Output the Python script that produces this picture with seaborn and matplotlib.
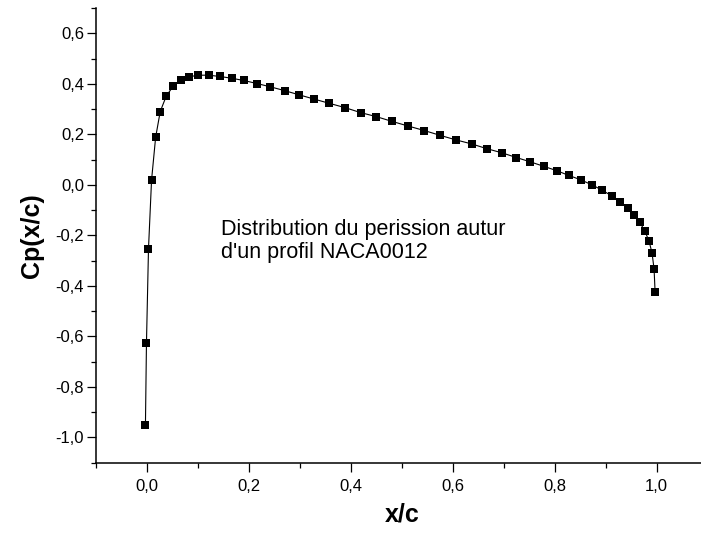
import matplotlib
matplotlib.use("Agg")
import matplotlib.pyplot as plt
import seaborn as sns
import pandas as pd
from matplotlib.ticker import MultipleLocator, FuncFormatter

# x/c positions along the chord
x_c = [-0.003, -0.001, 0.003, 0.009, 0.017, 0.026, 0.038, 0.052, 0.066, 0.083,
       0.101, 0.121, 0.143, 0.166, 0.190, 0.216, 0.242, 0.270, 0.299, 0.327,
       0.357, 0.388, 0.419, 0.450, 0.481, 0.512, 0.544, 0.575, 0.606, 0.637,
       0.667, 0.696, 0.725, 0.752, 0.779, 0.804, 0.828, 0.851, 0.874, 0.893,
       0.912, 0.928, 0.943, 0.956, 0.967, 0.977, 0.985, 0.991, 0.995, 0.997]

# pressure coefficient Cp at each station
cp = [-0.951, -0.628, -0.253, 0.019, 0.188, 0.290, 0.352, 0.392, 0.414, 0.428,
      0.434, 0.434, 0.429, 0.422, 0.413, 0.401, 0.388, 0.373, 0.356, 0.340,
      0.323, 0.306, 0.286, 0.270, 0.251, 0.233, 0.215, 0.196, 0.178, 0.162,
      0.143, 0.127, 0.108, 0.091, 0.073, 0.056, 0.037, 0.020, -0.001, -0.021,
      -0.044, -0.066, -0.090, -0.118, -0.148, -0.184, -0.222, -0.270, -0.334, -0.425]

df = pd.DataFrame({"x/c": x_c, "Cp": cp})

sns.set_style("ticks")
plt.rcParams["font.family"] = ["Liberation Sans", "DejaVu Sans"]
plt.rcParams["text.color"] = "black"
plt.rcParams["axes.labelcolor"] = "black"

fig = plt.figure(figsize=(7.01, 5.35), dpi=100)
ax = fig.add_axes([96 / 701, 1 - 462.7 / 535, 611.6 / 701, (462.7 - 8) / 535])

sns.lineplot(data=df, x="x/c", y="Cp", ax=ax, sort=False, color="black",
             linewidth=0.8, marker="s", markersize=5.2, markeredgewidth=0,
             markerfacecolor="black")

ax.set_xlim(-0.1, 1.1)
ax.set_ylim(-1.1, 0.7)

ax.xaxis.set_major_locator(MultipleLocator(0.2))
ax.xaxis.set_minor_locator(MultipleLocator(0.1))
ax.yaxis.set_major_locator(MultipleLocator(0.2))
ax.yaxis.set_minor_locator(MultipleLocator(0.1))

comma = FuncFormatter(lambda v, pos: f"{v:.1f}".replace(".", ",").replace("-0,0", "0,0"))
ax.xaxis.set_major_formatter(comma)
ax.yaxis.set_major_formatter(comma)

ax.tick_params(which="major", direction="out", length=6.5, width=0.9,
               labelsize=12, color="black", labelcolor="black")
ax.tick_params(which="minor", direction="out", length=3.4, width=0.9, color="black")
ax.tick_params(axis="x", which="major", pad=5)
ax.tick_params(axis="y", which="major", pad=2)

for side in ["top", "right"]:
    ax.spines[side].set_visible(False)
for side in ["left", "bottom"]:
    ax.spines[side].set_linewidth(1.1)
    ax.spines[side].set_color("black")

ax.set_xlabel("x/c", fontsize=18, fontweight="bold", labelpad=6)
ax.set_ylabel("Cp(x/c)", fontsize=18, fontweight="bold", labelpad=8)

ax.text(0.146, -0.135, "Distribution du perission autur\nd'un profil NACA0012",
        fontsize=15.5, ha="left", va="top", linespacing=1.15, color="black")

fig.savefig("out.png", dpi=100)
